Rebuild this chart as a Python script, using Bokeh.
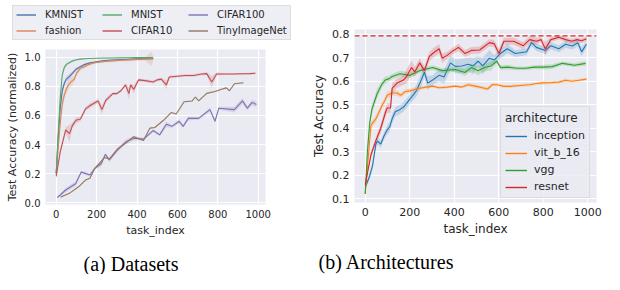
import numpy as np
from bokeh.plotting import figure
from bokeh.models import Legend, LegendItem, Span, Title, FixedTicker, PrintfTickFormatter
from bokeh.layouts import row, column
from bokeh.embed import file_html
from bokeh.resources import INLINE

# ---------------- data: (a) Datasets ----------------
kmnist_x = [0, 10, 20, 30, 40, 50, 60, 80, 100, 120, 140, 160, 180, 200, 240, 280, 320, 360, 400, 440, 480]
kmnist_y = [0.2, 0.45, 0.65, 0.77, 0.82, 0.85, 0.86, 0.89, 0.92, 0.935, 0.95, 0.96, 0.965, 0.97, 0.978, 0.982, 0.985, 0.987, 0.99, 0.99, 0.99]
kmnist_e = [0.01, 0.03, 0.03, 0.03, 0.02, 0.02, 0.02, 0.015, 0.01, 0.01, 0.01, 0.008, 0.008, 0.006, 0.005, 0.005, 0.005, 0.005, 0.005, 0.005, 0.006]

fashion_x = [0, 10, 20, 30, 40, 50, 60, 80, 90, 100, 120, 140, 160, 180, 200, 240, 280, 320, 360, 400, 440, 470, 480]
fashion_y = [0.2, 0.38, 0.55, 0.68, 0.74, 0.78, 0.81, 0.84, 0.85, 0.89, 0.925, 0.935, 0.95, 0.96, 0.965, 0.972, 0.975, 0.98, 0.982, 0.985, 0.988, 0.99, 0.99]
fashion_e = [0.01, 0.04, 0.04, 0.04, 0.03, 0.03, 0.03, 0.03, 0.02, 0.02, 0.015, 0.01, 0.01, 0.01, 0.008, 0.008, 0.008, 0.008, 0.01, 0.008, 0.01, 0.05, 0.02]

mnist_x = [0, 10, 20, 30, 40, 50, 60, 80, 100, 120, 140, 160, 200, 240, 280, 320, 360, 400, 440, 480]
mnist_y = [0.2, 0.48, 0.72, 0.88, 0.93, 0.95, 0.96, 0.975, 0.983, 0.988, 0.99, 0.992, 0.994, 0.995, 0.996, 0.997, 0.997, 0.998, 0.998, 0.998]
mnist_e = [0.01, 0.04, 0.03, 0.02, 0.015, 0.012, 0.01, 0.008, 0.006, 0.005, 0.004, 0.004, 0.003, 0.003, 0.003, 0.003, 0.003, 0.003, 0.003, 0.003]

cifar10_x = [0, 20, 47, 66, 80, 98, 120, 145, 170, 207, 226, 246, 265, 280, 300, 320, 343, 360, 368, 384,
             408, 440, 480, 500, 520, 545, 560, 600, 640, 680, 720, 745, 770, 794, 840, 880, 920, 960, 986]
cifar10_y = [0.18, 0.35, 0.50, 0.475, 0.53, 0.567, 0.575, 0.645, 0.67, 0.70, 0.64, 0.705, 0.73, 0.75, 0.75, 0.77, 0.81, 0.75, 0.81, 0.78,
             0.845, 0.84, 0.83, 0.845, 0.85, 0.81, 0.865, 0.87, 0.875, 0.875, 0.885, 0.888, 0.83, 0.885, 0.885, 0.885, 0.887, 0.888, 0.89]
cifar10_e = [0.01, 0.02, 0.02, 0.06, 0.02, 0.02, 0.015, 0.015, 0.015, 0.015, 0.03, 0.015, 0.015, 0.01, 0.01, 0.01, 0.01, 0.04, 0.01, 0.03,
             0.01, 0.01, 0.01, 0.01, 0.01, 0.03, 0.01, 0.008, 0.008, 0.008, 0.008, 0.01, 0.04, 0.01, 0.006, 0.006, 0.006, 0.006, 0.006]

cifar100_x = [6, 47, 96, 124, 167, 191, 223, 243, 263, 304, 344, 384, 432, 480, 512, 545, 573, 609, 628, 654,
              705, 761, 786, 805, 882, 922, 946, 970, 991]
cifar100_y = [0.035, 0.087, 0.13, 0.21, 0.19, 0.236, 0.268, 0.332, 0.294, 0.364, 0.417, 0.443, 0.437, 0.496, 0.466, 0.539, 0.525, 0.56, 0.525, 0.58,
              0.58, 0.64, 0.56, 0.65, 0.64, 0.70, 0.65, 0.69, 0.675]
cifar100_e = [0.005, 0.015, 0.015, 0.01, 0.01, 0.01, 0.02, 0.01, 0.015, 0.015, 0.015, 0.015, 0.01, 0.01, 0.01, 0.02, 0.01, 0.015, 0.01, 0.015,
              0.01, 0.015, 0.01, 0.01, 0.02, 0.02, 0.015, 0.02, 0.02]

tiny_x = [22, 63, 111, 146, 167, 191, 239, 263, 304, 344, 384, 432, 464, 488, 530, 569, 594, 633, 673, 689,
          705, 745, 786, 818, 842, 858, 882, 927]
tiny_y = [0.038, 0.062, 0.109, 0.156, 0.168, 0.236, 0.31, 0.30, 0.37, 0.41, 0.454, 0.428, 0.513, 0.517, 0.565, 0.62, 0.61, 0.694, 0.70, 0.727,
          0.70, 0.752, 0.765, 0.78, 0.79, 0.77, 0.818, 0.825]
tiny_e = [0.004] * 28

# ---------------- data: (b) Architectures ----------------
incep_x = [0, 19, 33, 48, 55, 70, 84, 99, 110, 121, 135, 157, 172, 186, 208, 230, 252, 266, 281, 303,
           332, 354, 383, 405, 434, 463, 485, 507, 528, 558, 579, 608, 638, 674, 725, 747, 769, 809, 834, 870,
           900, 930, 955, 972, 994]
incep_y = [0.148, 0.194, 0.24, 0.333, 0.345, 0.333, 0.366, 0.393, 0.406, 0.44, 0.47, 0.48, 0.49, 0.506, 0.532, 0.559, 0.605, 0.638, 0.592, 0.605,
           0.625, 0.618, 0.678, 0.663, 0.665, 0.672, 0.665, 0.685, 0.665, 0.698, 0.69, 0.718, 0.738, 0.718, 0.725, 0.764, 0.744, 0.731, 0.751, 0.738,
           0.757, 0.75, 0.764, 0.725, 0.757]
incep_e = [0.01, 0.015, 0.015, 0.02, 0.015, 0.015, 0.015, 0.02, 0.02, 0.02, 0.02, 0.02, 0.02, 0.02, 0.02, 0.025, 0.03, 0.02, 0.03, 0.02,
           0.025, 0.03, 0.03, 0.03, 0.03, 0.03, 0.035, 0.02, 0.035, 0.035, 0.02, 0.02, 0.02, 0.015, 0.015, 0.015, 0.015, 0.015, 0.015, 0.015,
           0.015, 0.015, 0.015, 0.02, 0.015]

vit_x = [0, 26, 48, 61, 77, 84, 99, 121, 143, 160, 179, 201, 223, 245, 274, 303, 332, 368, 405, 434,
         463, 500, 550, 572, 594, 623, 652, 696, 739, 768, 798, 834, 870, 900, 930, 960, 994]
vit_y = [0.12, 0.413, 0.44, 0.466, 0.5, 0.51, 0.54, 0.55, 0.55, 0.54, 0.556, 0.559, 0.565, 0.57, 0.575, 0.579, 0.572, 0.575, 0.579, 0.575,
         0.585, 0.578, 0.567, 0.586, 0.585, 0.578, 0.578, 0.582, 0.585, 0.59, 0.593, 0.594, 0.596, 0.604, 0.6, 0.604, 0.609]
vit_e = [0.01, 0.015, 0.015, 0.015, 0.015, 0.015, 0.015, 0.012, 0.012, 0.01, 0.01, 0.01, 0.008, 0.008, 0.006, 0.006, 0.006, 0.006, 0.006, 0.006,
         0.008, 0.008, 0.008, 0.006, 0.006, 0.006, 0.006, 0.006, 0.006, 0.006, 0.008, 0.006, 0.006, 0.008, 0.006, 0.006, 0.006]

vgg_x = [0, 10, 20, 30, 44, 55, 77, 90, 106, 121, 157, 201, 245, 303, 346, 405, 448, 477, 507, 536,
         565, 591, 608, 640, 680, 720, 760, 800, 840, 886, 940, 990]
vgg_y = [0.12, 0.3, 0.42, 0.48, 0.52, 0.55, 0.59, 0.605, 0.61, 0.62, 0.632, 0.625, 0.645, 0.658, 0.645, 0.65, 0.637, 0.658, 0.645, 0.658,
         0.665, 0.685, 0.658, 0.66, 0.655, 0.655, 0.66, 0.66, 0.662, 0.676, 0.668, 0.676]
vgg_e = [0.01, 0.02, 0.02, 0.02, 0.02, 0.02, 0.015, 0.015, 0.012, 0.012, 0.012, 0.012, 0.01, 0.01, 0.01, 0.01, 0.015, 0.015, 0.02, 0.015,
         0.02, 0.01, 0.01, 0.01, 0.008, 0.008, 0.008, 0.01, 0.01, 0.008, 0.008, 0.01]

resnet_x = [0, 26, 48, 70, 92, 99, 114, 121, 143, 172, 186, 208, 223, 245, 266, 288, 303, 332, 346, 368,
            397, 419, 448, 477, 514, 558, 579, 601, 623, 667, 710, 739, 769, 790, 809, 834, 870, 900, 929, 951,
            972, 994]
resnet_y = [0.16, 0.287, 0.347, 0.4, 0.47, 0.486, 0.486, 0.57, 0.592, 0.605, 0.62, 0.658, 0.64, 0.678, 0.645, 0.705, 0.718, 0.738, 0.698, 0.71,
            0.731, 0.744, 0.718, 0.731, 0.733, 0.764, 0.76, 0.718, 0.77, 0.77, 0.751, 0.777, 0.77, 0.777, 0.738, 0.777, 0.787, 0.777, 0.77, 0.777,
            0.772, 0.781]
resnet_e = [0.01, 0.015, 0.015, 0.02, 0.02, 0.02, 0.02, 0.02, 0.02, 0.02, 0.03, 0.03, 0.02, 0.02, 0.02, 0.02, 0.02, 0.02, 0.02, 0.015,
            0.015, 0.015, 0.015, 0.015, 0.015, 0.015, 0.015, 0.02, 0.015, 0.015, 0.015, 0.015, 0.015, 0.01, 0.03, 0.01, 0.01, 0.01, 0.01, 0.01,
            0.01, 0.01]

baseline = 0.793

left_xticks = [0, 200, 400, 600, 800, 1000]
left_yticks = [0.0, 0.2, 0.4, 0.6, 0.8, 1.0]
right_xticks = [0, 200, 400, 600, 800, 1000]
right_yticks = [0.1, 0.2, 0.3, 0.4, 0.5, 0.6, 0.7, 0.8]

left_names = ["KMNIST", "fashion", "MNIST", "CIFAR10", "CIFAR100", "TinyImageNet"]
left_colors = ["#4c72b0", "#dd8452", "#55a868", "#c44e52", "#8172b3", "#937860"]
right_names = ["inception", "vit_b_16", "vgg", "resnet"]
right_colors = ["#1f77b4", "#ff7f0e", "#2ca02c", "#d62728"]

BG = "#eaeaf2"
TXT = "#262626"


def style(p, tick_size, label_size, xt, yt):
    p.background_fill_color = BG
    p.border_fill_color = "white"
    p.outline_line_color = None
    p.xaxis.ticker = FixedTicker(ticks=xt)
    p.yaxis.ticker = FixedTicker(ticks=yt)
    p.yaxis.formatter = PrintfTickFormatter(format="%.1f")
    for ax in (p.xaxis[0], p.yaxis[0]):
        ax.axis_line_color = None
        ax.major_tick_line_color = None
        ax.minor_tick_line_color = None
        ax.major_tick_out = 0
        ax.major_tick_in = 0
        ax.minor_tick_out = 0
        ax.major_label_standoff = 5
        ax.axis_label_standoff = 3
        ax.major_label_text_font = "DejaVu Sans"
        ax.major_label_text_font_size = tick_size
        ax.major_label_text_color = TXT
        ax.axis_label_text_font = "DejaVu Sans"
        ax.axis_label_text_font_size = label_size
        ax.axis_label_text_font_style = "normal"
        ax.axis_label_text_color = TXT
    p.xgrid.ticker = FixedTicker(ticks=xt)
    p.ygrid.ticker = FixedTicker(ticks=yt)
    p.grid.grid_line_color = "white"
    p.grid.grid_line_width = 1.2


def series(p, x, y, e, color):
    x = np.array(x, dtype=float)
    y = np.array(y, dtype=float)
    e = np.array(e, dtype=float)
    p.varea(x=x, y1=y - e, y2=y + e, fill_color=color, fill_alpha=0.2)
    return p.line(x, y, line_color=color, line_width=1.1)


def caption(p, text, offset, gap):
    # thin spacer between the x axis and the caption, then the caption itself
    p.add_layout(Title(text=" ", text_font_size="1px", standoff=gap), "below")
    p.add_layout(Title(text=text, align="left", offset=offset, standoff=0,
                       text_font="Liberation Serif", text_font_size="20px",
                       text_font_style="normal", text_color="black"), "below")


def legend_keys(p, names, colors):
    # legend-only renderers (a single missing point each: nothing is drawn in the frame)
    return {n: p.line([np.nan], [np.nan], line_color=c, line_width=1.4) for n, c in zip(names, colors)}


# ---------------- legend strip for (a) ----------------
lf = figure(width=300, height=47, x_range=(0, 1), y_range=(0, 1),
            output_backend="svg", toolbar_location=None, frame_align=False,
            min_border=0, min_border_left=0, min_border_right=0, min_border_top=0, min_border_bottom=0)
lf.axis.visible = False
lf.grid.visible = False
lf.outline_line_color = None
lf.background_fill_color = "white"
keys1 = legend_keys(lf, left_names, left_colors)
order = ["KMNIST", "MNIST", "CIFAR100", "fashion", "CIFAR10", "TinyImageNet"]
leg1 = Legend(items=[LegendItem(label=n, renderers=[keys1[n]]) for n in order],
              location=(12, 7), orientation="horizontal", ncols=3)
leg1.label_text_font = "DejaVu Sans"
leg1.label_text_font_size = "10px"
leg1.label_text_color = TXT
leg1.glyph_width = 20
leg1.glyph_height = 11
leg1.label_height = 11
leg1.label_width = 52
leg1.label_standoff = 9
leg1.spacing = 5
leg1.padding = 3
leg1.margin = 0
leg1.background_fill_color = BG
leg1.background_fill_alpha = 0.8
leg1.border_line_color = "#cccccc"
lf.add_layout(leg1)

# ---------------- left chart ----------------
p1 = figure(width=300, height=227, x_range=(-53, 1036), y_range=(-0.013, 1.054),
            output_backend="svg", toolbar_location=None, frame_align=False,
            min_border_left=45, min_border_right=35, min_border_top=2, min_border_bottom=70,
            x_axis_label="task_index", y_axis_label="Test Accuracy (normalized)")
style(p1, "10px", "11px", left_xticks, left_yticks)

series(p1, kmnist_x, kmnist_y, kmnist_e, left_colors[0])
series(p1, fashion_x, fashion_y, fashion_e, left_colors[1])
series(p1, mnist_x, mnist_y, mnist_e, left_colors[2])
series(p1, cifar10_x, cifar10_y, cifar10_e, left_colors[3])
series(p1, cifar100_x, cifar100_y, cifar100_e, left_colors[4])
series(p1, tiny_x, tiny_y, tiny_e, left_colors[5])
caption(p1, "(a) Datasets", 38, 8)

# ---------------- right chart ----------------
p2 = figure(width=304, height=274, x_range=(-48, 1039), y_range=(0.084, 0.82),
            output_backend="svg", toolbar_location=None, frame_align=False,
            min_border_left=54, min_border_right=8, min_border_top=29, min_border_bottom=72,
            x_axis_label="task_index", y_axis_label="Test Accuracy")
style(p2, "11px", "12px", right_xticks, right_yticks)

p2.add_layout(Span(location=baseline, dimension="width", line_color="#d62728",
                   line_dash="5 3", line_width=1.2))

series(p2, incep_x, incep_y, incep_e, right_colors[0])
series(p2, vit_x, vit_y, vit_e, right_colors[1])
series(p2, vgg_x, vgg_y, vgg_e, right_colors[2])
series(p2, resnet_x, resnet_y, resnet_e, right_colors[3])
keys2 = legend_keys(p2, right_names, right_colors)

leg2 = Legend(items=[LegendItem(label=n, renderers=[keys2[n]]) for n in right_names],
              location=(146, 4), title="architecture")
leg2.title_text_font = "DejaVu Sans"
leg2.title_text_font_size = "12px"
leg2.title_text_font_style = "normal"
leg2.title_text_color = TXT
leg2.title_standoff = 4
leg2.label_text_font = "DejaVu Sans"
leg2.label_text_font_size = "11px"
leg2.label_text_color = TXT
leg2.glyph_width = 22
leg2.glyph_height = 12
leg2.label_height = 12
leg2.label_standoff = 7
leg2.spacing = 4
leg2.padding = 4
leg2.margin = 0
leg2.background_fill_color = BG
leg2.background_fill_alpha = 0.8
leg2.border_line_color = "#cccccc"
p2.add_layout(leg2)
caption(p2, "(b) Architectures", -36, 7)

layout = row(column(lf, p1, spacing=0), p2, spacing=0)
open("out.html", "w").write(file_html(layout, INLINE))
